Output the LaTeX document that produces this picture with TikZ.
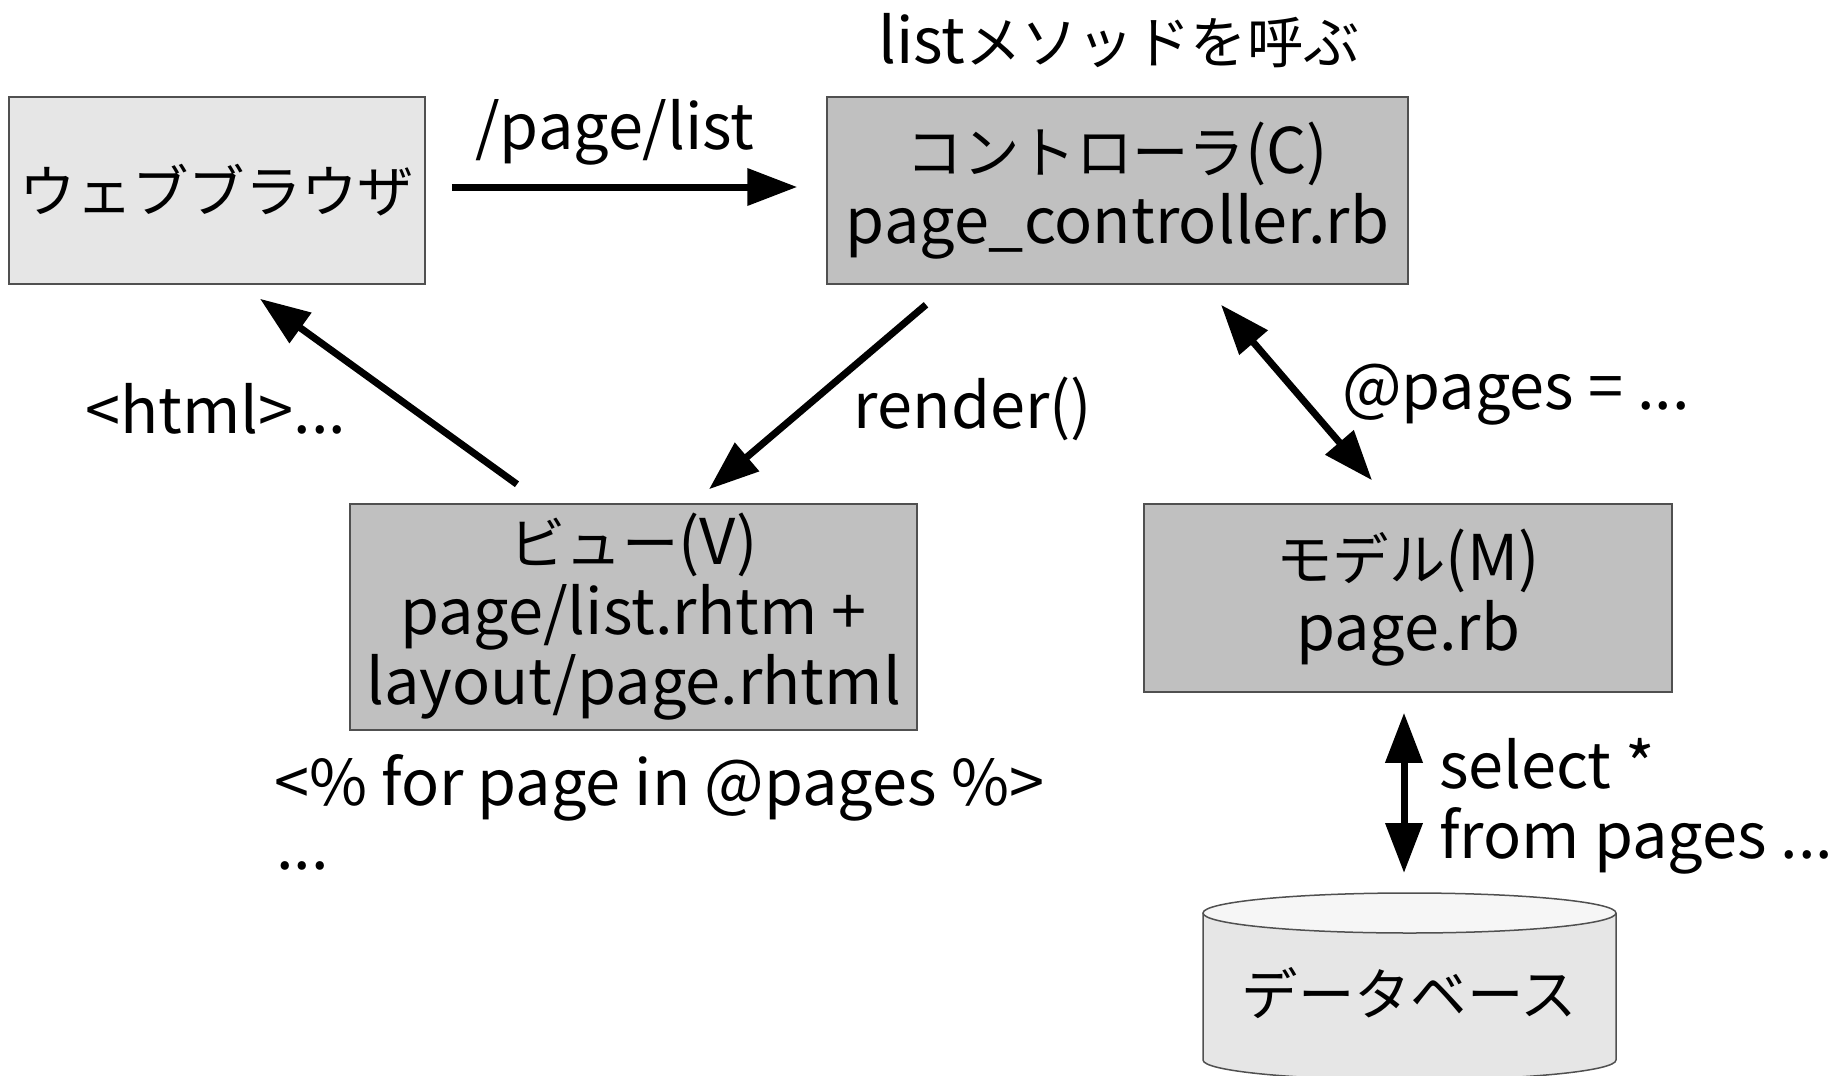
\documentclass[tikz,border=0pt]{standalone}
\usepackage{fontspec}
\setmainfont{Noto Sans CJK JP}
\newfontfamily\jp{Noto Sans CJK JP}[Scale=0.895]
\usetikzlibrary{calc,arrows.meta}
\definecolor{lightbox}{HTML}{E6E6E6}
\definecolor{darkbox}{HTML}{C0C0C0}
\definecolor{boxline}{HTML}{505050}
\definecolor{dbtopfill}{HTML}{F6F6F6}
\newcommand{\bigtext}{\fontsize{63}{70}\selectfont}
\tikzset{
	box/.style={draw=boxline, line width=1.5pt, align=center, inner sep=0pt, font=\bigtext},
	lbl/.style={inner sep=0pt, align=left, font=\bigtext},
	flow/.style={line width=7pt, -{Triangle[length=50pt,width=36pt]}},
	twoway/.style={line width=7pt, {Triangle[length=50pt,width=36pt]}-{Triangle[length=50pt,width=36pt]}}
}
\begin{document}
\begin{tikzpicture}[x=1pt, y=-1pt]

	\fill[white] (0,0) rectangle (1831,1076);
	\useasboundingbox (0,0) rectangle (1831,1076);

	\node[box, fill=lightbox, minimum width=416pt, minimum height=187pt] (browser) at (217,190.5) {{\jp ウェブブラウザ}};
	\node[box, fill=darkbox, minimum width=581pt, minimum height=187pt] (ctrl) at (1117.5,190.5) {{\jp コントローラ}(C)\\page\_controller.rb};
	\node[box, fill=darkbox, minimum width=567pt, minimum height=226pt] (view) at (633.5,617) {{\jp ビュー}(V)\\page/list.rhtm +\\layout/page.rhtml};
	\node[box, fill=darkbox, minimum width=528pt, minimum height=188pt] (model) at (1408,598) {{\jp モデル}(M)\\page.rb};

	% database
	\draw[boxline, line width=1.5pt, fill=lightbox] (1203,913) -- (1203,1060) arc[start angle=180, end angle=0, x radius=206.5, y radius=20] -- (1616,913);
	\draw[boxline, line width=1.5pt, fill=dbtopfill] (1409.5,913) ellipse [x radius=206.5, y radius=20];
	\node[lbl] (db) at (1409.5,993) {\jp データベース};
	\coordinate (dbtop) at (1409.5,893);

	\node[lbl] (calllabel) at (1119,41) {list{\jp メソッドを呼ぶ}};
	\node[lbl] (reqlabel) at (615,132) {/page/list};
	\node[lbl] (htmllabel) at (216,409) {<html>...};
	\node[lbl] (renderlabel) at (973,409) {render()};
	\node[lbl] (pageslabel) at (1516,395) {@pages = ...};
	\node[lbl, anchor=west] (looplabel) at (274,788) {<\% for page in @pages \%>};
	\node[lbl, anchor=west] (dotslabel) at (276,866) {...};
	\node[lbl, anchor=west] (sqllabel) at (1439,806) {select *\\from pages ...};

	\draw[flow] ($(browser.east)+(26,-3.5)$) -- ($(ctrl.west)+(-29,-3.5)$);
	\draw[flow] ($(ctrl.south)+(-191.5,20)$) -- ($(view.north)+(75.5,-14)$);
	\draw[flow] ($(view.north)+(-116.5,-19)$) -- ($(browser.south)+(43,14)$);
	\draw[twoway] ($(ctrl.south)+(103.5,20)$) -- ($(model.north)+(-36,-23)$);
	\draw[twoway] ($(model.south)+(-4,20)$) -- ($(dbtop)+(-5.5,-20)$);

\end{tikzpicture}
\end{document}
